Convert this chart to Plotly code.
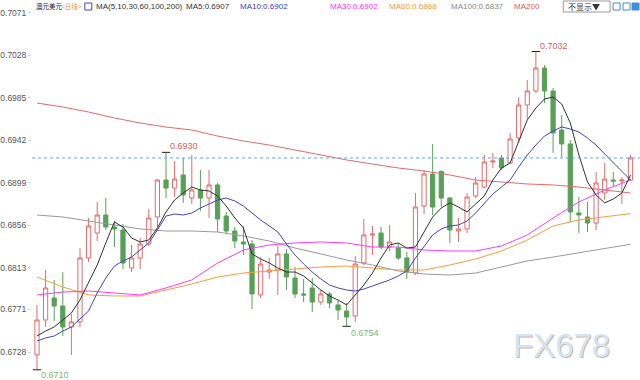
import plotly.graph_objects as go

# ---------------- data ----------------
opens = [0.67250, 0.67604, 0.67826, 0.67745, 0.67533, 0.67584, 0.68231, 0.68484, 0.68666, 0.68545,
         0.68514, 0.68130, 0.68231, 0.68373, 0.68646, 0.69020, 0.68939, 0.69071, 0.68838, 0.68919,
         0.68838, 0.68970, 0.68656, 0.68504, 0.68393, 0.68373, 0.67857, 0.68089, 0.68110, 0.68272,
         0.68029, 0.67867, 0.67928, 0.67786, 0.67867, 0.67756, 0.67695, 0.67644, 0.68181, 0.68464,
         0.68484, 0.68342, 0.68332, 0.68231, 0.68079, 0.68757, 0.69081, 0.69109, 0.68838, 0.68504,
         0.68525, 0.68858, 0.68949, 0.69202, 0.69243, 0.69192, 0.69445, 0.69779, 0.69921, 0.70153,
         0.69921, 0.69526, 0.69385, 0.68686, 0.68646, 0.68585, 0.68889, 0.69020, 0.69010, 0.69020]
highs = [0.67756, 0.68110, 0.68008, 0.68087, 0.67664, 0.68332, 0.68636, 0.68798, 0.68838, 0.68605,
         0.68575, 0.68363, 0.68433, 0.68727, 0.69030, 0.69300, 0.69213, 0.69243, 0.69273, 0.69122,
         0.69122, 0.68990, 0.68697, 0.68545, 0.68555, 0.68413, 0.68241, 0.68231, 0.68353, 0.68322,
         0.68140, 0.68019, 0.68029, 0.67907, 0.67887, 0.67806, 0.67776, 0.68251, 0.68626, 0.68555,
         0.68545, 0.68565, 0.68383, 0.68292, 0.68889, 0.69121, 0.69385, 0.68980, 0.68848, 0.68636,
         0.68889, 0.69051, 0.69273, 0.69293, 0.69273, 0.69496, 0.69860, 0.70032, 0.70320, 0.70184,
         0.69951, 0.69678, 0.69425, 0.68848, 0.68798, 0.69101, 0.69192, 0.69101, 0.69051, 0.69273]
lows = [0.67100, 0.67533, 0.67594, 0.67442, 0.67250, 0.67533, 0.68191, 0.68403, 0.68514, 0.68342,
        0.68120, 0.68089, 0.68120, 0.68353, 0.68545, 0.68838, 0.68848, 0.68788, 0.68777, 0.68707,
        0.68636, 0.68494, 0.68484, 0.68332, 0.68261, 0.67715, 0.67826, 0.68018, 0.67857, 0.67907,
        0.67826, 0.67786, 0.67685, 0.67756, 0.67725, 0.67604, 0.67540, 0.67584, 0.68160, 0.68261,
        0.68322, 0.68302, 0.68211, 0.68019, 0.68059, 0.68676, 0.68666, 0.68747, 0.68383, 0.68393,
        0.68484, 0.68838, 0.68939, 0.69142, 0.69122, 0.69182, 0.69405, 0.69637, 0.69900, 0.69799,
        0.69294, 0.69253, 0.68595, 0.68484, 0.68494, 0.68514, 0.68818, 0.68960, 0.68777, 0.69010]
closes = [0.67604, 0.67928, 0.67745, 0.67533, 0.67584, 0.68231, 0.68555, 0.68666, 0.68545, 0.68525,
          0.68180, 0.68231, 0.68373, 0.68636, 0.69020, 0.68939, 0.69030, 0.68869, 0.68919, 0.68838,
          0.68970, 0.68626, 0.68504, 0.68403, 0.68373, 0.67867, 0.68170, 0.68110, 0.68272, 0.68039,
          0.67867, 0.67857, 0.67786, 0.67867, 0.67776, 0.67705, 0.67634, 0.68170, 0.68464, 0.68474,
          0.68342, 0.68393, 0.68231, 0.68089, 0.68747, 0.69081, 0.68747, 0.68838, 0.68514, 0.68525,
          0.68848, 0.68990, 0.69202, 0.69212, 0.69142, 0.69435, 0.69779, 0.69921, 0.70153, 0.69921,
          0.69496, 0.69385, 0.68697, 0.68666, 0.68585, 0.68990, 0.69030, 0.69010, 0.69020, 0.69243]

ma5 = [0.67442, 0.67492, 0.67533, 0.67604, 0.67675, 0.67806, 0.67988, 0.68160, 0.68383, 0.68595,
       0.68545, 0.68433, 0.68393, 0.68413, 0.68535, 0.68697, 0.68818, 0.68889, 0.68949, 0.68919,
       0.68909, 0.68858, 0.68757, 0.68636, 0.68535, 0.68272, 0.68221, 0.68181, 0.68130, 0.68089,
       0.68089, 0.68049, 0.67978, 0.67907, 0.67847, 0.67806, 0.67756, 0.67857, 0.67958, 0.68079,
       0.68231, 0.68363, 0.68383, 0.68332, 0.68342, 0.68494, 0.68646, 0.68737, 0.68788, 0.68747,
       0.68697, 0.68777, 0.68858, 0.69020, 0.69142, 0.69192, 0.69405, 0.69627, 0.69749, 0.69840,
       0.69860, 0.69789, 0.69597, 0.69273, 0.69000, 0.68869, 0.68788, 0.68828, 0.68889, 0.69070]
ma10 = [0.67391, 0.67422, 0.67442, 0.67492, 0.67533, 0.67614, 0.67695, 0.67877, 0.68029, 0.68150,
        0.68201, 0.68241, 0.68312, 0.68383, 0.68514, 0.68656, 0.68676, 0.68666, 0.68686, 0.68737,
        0.68777, 0.68818, 0.68838, 0.68808, 0.68757, 0.68686, 0.68616, 0.68555, 0.68494, 0.68373,
        0.68261, 0.68170, 0.68089, 0.68019, 0.67958, 0.67928, 0.67907, 0.67897, 0.67917, 0.67948,
        0.67978, 0.68009, 0.68049, 0.68100, 0.68231, 0.68353, 0.68464, 0.68525, 0.68555, 0.68565,
        0.68605, 0.68686, 0.68788, 0.68879, 0.68949, 0.69020, 0.69152, 0.69273, 0.69374, 0.69465,
        0.69516, 0.69557, 0.69536, 0.69506, 0.69445, 0.69374, 0.69283, 0.69192, 0.69111, 0.69020]

slow_idx = [0, 3, 6, 9, 12, 15, 18, 21, 24, 27, 30, 33, 36, 39, 42, 45, 48, 51, 54, 57, 60, 63, 66, 69]
ma30 = [0.67857, 0.67887, 0.67897, 0.67877, 0.67857, 0.67928, 0.68009, 0.68181, 0.68312, 0.68363,
        0.68383, 0.68393, 0.68383, 0.68342, 0.68342, 0.68312, 0.68302, 0.68302, 0.68353, 0.68464,
        0.68636, 0.68798, 0.68919, 0.69020]
ma60 = [0.68039, 0.67938, 0.67857, 0.67847, 0.67847, 0.67907, 0.67968, 0.68039, 0.68079, 0.68100,
        0.68120, 0.68140, 0.68150, 0.68130, 0.68110, 0.68110, 0.68160, 0.68221, 0.68302, 0.68413,
        0.68555, 0.68616, 0.68646, 0.68680]
ma100 = [0.68666, 0.68646, 0.68605, 0.68565, 0.68525, 0.68504, 0.68504, 0.68494, 0.68454, 0.68403,
         0.68332, 0.68272, 0.68211, 0.68160, 0.68100, 0.68069, 0.68059, 0.68079, 0.68140, 0.68201,
         0.68241, 0.68282, 0.68322, 0.68370]
ma200 = [0.69799, 0.69759, 0.69708, 0.69648, 0.69597, 0.69556, 0.69526, 0.69465, 0.69415, 0.69374,
         0.69324, 0.69273, 0.69223, 0.69182, 0.69142, 0.69111, 0.69071, 0.69020, 0.69000, 0.68980,
         0.68970, 0.68949, 0.68919, 0.68889]

ytick_vals = [0.6728, 0.6771, 0.6813, 0.6856, 0.6899, 0.6942, 0.6985, 0.7028, 0.7071]
ytick_text = ["0.6728", "0.6771", "0.6813", "0.6856", "0.6899", "0.6942", "0.6985", "0.7028", "0.7071"]

header_items = [
    ("澳元美元", "#222222", 6.5, 32),
    ("&lt;日线&gt;", "#f0922e", 6.5, 57),
    ("MA(5,10,30,60,100,200)", "#333333", 8, 92),
    ("MA5:0.6907", "#333333", 8, 183),
    ("MA10:0.6902", "#3b3bd0", 8, 237),
    ("MA30:0.6902", "#ff33ff", 8, 327),
    ("MA60:0.6868", "#ff9933", 8, 386),
    ("MA100:0.6837", "#888888", 8, 448),
    ("MA200", "#ee5555", 8, 512),
]

hi_idx, hi_val = 58, 0.7032
hi2_idx, hi2_val = 15, 0.6930
lo_idx, lo_val = 36, 0.6754
lo2_idx, lo2_val = 0, 0.6710

# ---------------- figure ----------------
W, H = 640, 380
ML = 30
PW = W - ML
n = len(opens)
xs = list(range(n))


def px(x):
    return (x - ML) / PW


def py(y):
    return 1 - y / H


fig = go.Figure()

fig.add_trace(go.Candlestick(
    x=xs, open=opens, high=highs, low=lows, close=closes,
    increasing=dict(line=dict(color="#e46b6b", width=1), fillcolor="#ffffff"),
    decreasing=dict(line=dict(color="#58a058", width=1), fillcolor="#58a058"),
    whiskerwidth=0, hoverinfo="skip", showlegend=False,
))

line_specs = [
    (slow_idx, ma200, "#e86a6a"),
    (slow_idx, ma100, "#9a9a9a"),
    (slow_idx, ma60, "#ff9a3c"),
    (slow_idx, ma30, "#ff3cff"),
    (xs, ma10, "#4545c0"),
    (xs, ma5, "#333333"),
]
for xv, yv, c in line_specs:
    fig.add_trace(go.Scatter(x=xv, y=yv, mode="lines", line=dict(color=c, width=1),
                             hoverinfo="skip", showlegend=False))

# extreme markers
fig.add_trace(go.Scatter(x=[hi_idx, hi2_idx, lo_idx, lo2_idx], y=[hi_val, hi2_val, lo_val, lo2_val],
                         mode="markers", marker=dict(symbol="line-ew", size=6,
                                                     line=dict(color="#222222", width=1)),
                         hoverinfo="skip", showlegend=False))

# current price line
fig.add_hline(y=closes[-1], line=dict(color="#5aaaf0", width=1, dash="dot"))

ann = []
ann.append(dict(x=hi_idx, y=hi_val, xref="x", yref="y", text=f"{hi_val:.4f}", showarrow=False,
                xanchor="left", yanchor="bottom", xshift=2, yshift=-1,
                font=dict(size=9, color="#e35a5a", family="Liberation Sans, Arial")))
ann.append(dict(x=hi2_idx, y=hi2_val, xref="x", yref="y", text=f"{hi2_val:.4f}", showarrow=False,
                xanchor="left", yanchor="bottom", xshift=2, yshift=-1,
                font=dict(size=9, color="#e35a5a", family="Liberation Sans, Arial")))
ann.append(dict(x=lo_idx, y=lo_val, xref="x", yref="y", text=f"{lo_val:.4f}", showarrow=False,
                xanchor="left", yanchor="top", xshift=2, yshift=0,
                font=dict(size=9, color="#79b879", family="Liberation Sans, Arial")))
ann.append(dict(x=lo2_idx, y=lo2_val, xref="x", yref="y", text=f"{lo2_val:.4f}", showarrow=False,
                xanchor="left", yanchor="middle", xshift=2, yshift=-5,
                font=dict(size=9, color="#79b879", family="Liberation Sans, Arial")))

for txt, col, sz, xpx in header_items:
    ann.append(dict(x=px(xpx), y=py(6.5), xref="paper", yref="paper", text=txt, showarrow=False,
                    xanchor="left", yanchor="middle",
                    font=dict(size=sz, color=col, family="Liberation Sans, Noto Sans CJK SC, Arial")))

ann.append(dict(x=px(566), y=py(6.5), xref="paper", yref="paper", text="不显示▼", showarrow=False,
                xanchor="left", yanchor="middle",
                font=dict(size=8, color="#333333", family="Noto Sans CJK SC, Liberation Sans")))

# watermark with shadow
ann.append(dict(x=px(561) + 1.2 / PW, y=py(345) - 1.2 / H, xref="paper", yref="paper", text="FX678",
                showarrow=False, xanchor="center", yanchor="middle",
                font=dict(size=33, color="#cdb9a6", family="Liberation Sans, Arial")))
ann.append(dict(x=px(561), y=py(345), xref="paper", yref="paper", text="FX678",
                showarrow=False, xanchor="center", yanchor="middle",
                font=dict(size=33, color="#d5e4f4", family="Liberation Sans, Arial")))

shapes = [
    # left axis dotted line
    dict(type="line", xref="paper", yref="paper", x0=0, x1=0, y0=0, y1=1,
         line=dict(color="#bcdcf2", width=1, dash="dot")),
    # header MA icon
    dict(type="rect", xref="paper", yref="paper", x0=px(83), x1=px(90), y0=py(10), y1=py(3),
         line=dict(color="#4a4ab0", width=1), fillcolor="#ffffff"),
    # "不显示" box
    dict(type="rect", xref="paper", yref="paper", x0=px(563), x1=px(610), y0=py(12), y1=py(1),
         line=dict(color="#999999", width=1), fillcolor="#ffffff", layer="below"),
    # right icons
    dict(type="rect", xref="paper", yref="paper", x0=px(613), x1=px(620), y0=py(10), y1=py(3),
         line=dict(color="#3d8fd6", width=1), fillcolor="#ffffff"),
    dict(type="rect", xref="paper", yref="paper", x0=px(623), x1=px(630), y0=py(10), y1=py(3),
         line=dict(color="#3d8fd6", width=1), fillcolor="#ffffff"),
    dict(type="rect", xref="paper", yref="paper", x0=px(632), x1=px(639), y0=py(10), y1=py(3),
         line=dict(color="#3d8fd6", width=1), fillcolor="#3d8fd6"),
]

y0v = 0.6728 - 28 * 0.0043 / 42.5
y1v = 0.6728 + 352 * 0.0043 / 42.5
fig.update_layout(
    width=W, height=H,
    margin=dict(l=ML, r=0, t=0, b=0),
    paper_bgcolor="#ffffff", plot_bgcolor="#ffffff",
    showlegend=False,
    annotations=ann, shapes=shapes,
    xaxis=dict(range=[(ML - 35) / 8.63, (W - 35) / 8.63], visible=False,
               rangeslider=dict(visible=False), showgrid=False, zeroline=False),
    yaxis=dict(range=[y0v, y1v], tickvals=ytick_vals, ticktext=ytick_text,
               showgrid=False, zeroline=False, ticks="outside", ticklen=3,
               tickcolor="#bcdcf2", tickfont=dict(size=8.5, color="#555555",
                                                   family="Liberation Sans, Arial"),
               showline=False),
)

fig.write_html("out.html", config={"displayModeBar": False},
               post_script="document.body.style.margin='0px';document.body.style.overflow='hidden';")
